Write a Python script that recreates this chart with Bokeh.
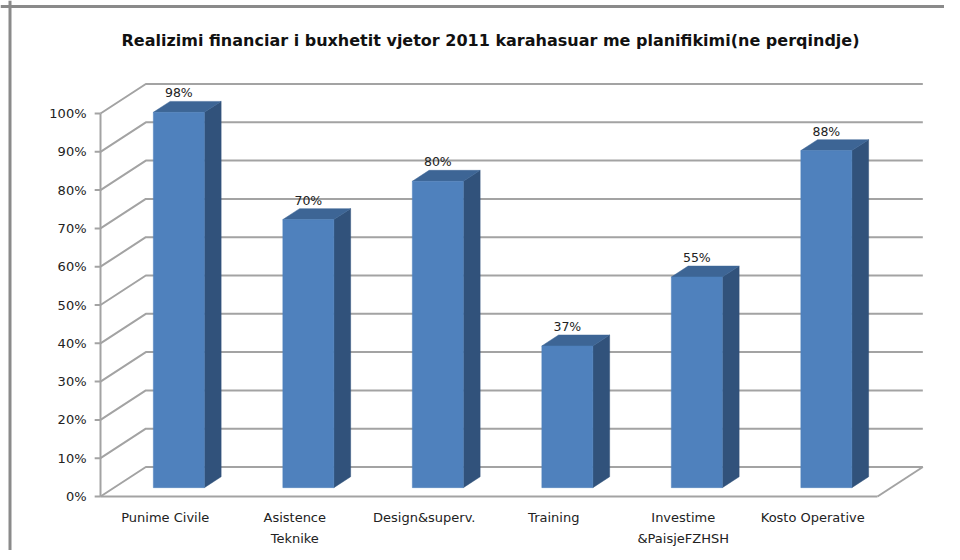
from bokeh.plotting import figure
from bokeh.models import ColumnDataSource, Range1d, Span
from bokeh.embed import file_html
from bokeh.resources import INLINE
from bokeh.core.properties import value

# ---------------- data ----------------
title_text = "Realizimi financiar i buxhetit vjetor 2011 karahasuar me planifikimi(ne perqindje)"
categories = ["Punime Civile", "Asistence\nTeknike", "Design&superv.", "Training",
              "Investime\n&PaisjeFZHSH", "Kosto Operative"]
values = [98, 70, 80, 37, 55, 88]
value_labels = ["98%", "70%", "80%", "37%", "55%", "88%"]
y_ticks = [0, 10, 20, 30, 40, 50, 60, 70, 80, 90, 100]
y_tick_labels = ["0%", "10%", "20%", "30%", "40%", "50%", "60%", "70%", "80%", "90%", "100%"]

# ---------------- geometry / style ----------------
W, H = 944, 550
PX_X = 129.5      # px per category slot
PX_Y = 3.83       # px per percent
X0 = 100          # figure px from left edge to front value axis
Y0 = 496          # figure px from top edge to front 0% line
DX = 0.35         # depth offset (category units)
DY = 7.7          # depth offset (percent units)
BW = 0.394        # bar width (category units)
F0, F1 = 0.30, 0.67   # bar front/back depth fractions
N = len(categories)

FONT = "DejaVu Sans"
GRID = "#a3a3a3"
FRONT = "#4f81bd"
SIDE = "#31527b"
TOP = "#3d6595"
FRAME = "#8a8a8a"

p = figure(width=W, height=H, output_backend="svg", toolbar_location=None,
           x_range=Range1d(-X0 / PX_X, (W - X0) / PX_X),
           y_range=Range1d(-(H - Y0) / PX_Y, Y0 / PX_Y),
           x_axis_location=None, y_axis_location=None,
           min_border=0, background_fill_color="white", border_fill_color="white",
           outline_line_color=None)
p.xgrid.visible = False
p.ygrid.visible = False

# chart-area frame: only the top and left edges are visible in the reference
p.add_layout(Span(location=(Y0 - 6) / PX_Y, dimension="width", line_color=FRAME, line_width=3))
p.add_layout(Span(location=(9.5 - X0) / PX_X, dimension="height", line_color=FRAME, line_width=3))

# back wall gridlines + side wall diagonals
gx, gy = [], []
for t in y_ticks:
    gx.append([0, DX, N + DX]); gy.append([t, t + DY, t + DY])
p.multi_line(gx, gy, line_color=GRID, line_width=2)

# floor front edge, right diagonal, front axis, tick marks
fx = [[0, N], [N, N + DX], [0, 0]]
fy = [[0, 0], [0, DY], [0, y_ticks[-1]]]
for t in y_ticks:
    fx.append([-0.045, 0]); fy.append([t, t])
p.multi_line(fx, fy, line_color=GRID, line_width=2)

# bars
D = F1 - F0
cx = [i + 0.5 + F0 * DX for i in range(N)]
left = [c - BW / 2 for c in cx]
right = [c + BW / 2 for c in cx]
bottom = [F0 * DY] * N
top = [v + F0 * DY for v in values]

side_xs = [[r, r + D * DX, r + D * DX, r] for r in right]
side_ys = [[b, b + D * DY, t + D * DY, t] for b, t in zip(bottom, top)]
top_xs = [[l, r, r + D * DX, l + D * DX] for l, r in zip(left, right)]
top_ys = [[t, t, t + D * DY, t + D * DY] for t in top]

p.patches(side_xs, side_ys, fill_color=SIDE, line_color=SIDE, line_width=0.5)
p.patches(top_xs, top_ys, fill_color=TOP, line_color=TOP, line_width=0.5)
p.quad(left=left, right=right, bottom=bottom, top=top,
       fill_color=FRONT, line_color=FRONT, line_width=0.5)

# value labels
vsrc = ColumnDataSource(dict(x=cx, y=[v + F1 * DY + 2.2 for v in values], t=value_labels))
p.text("x", "y", text="t", source=vsrc, text_font=value(FONT), text_font_size="12.5px",
       text_color="#222222", text_align="center", text_baseline="alphabetic")

# y tick labels
ysrc = ColumnDataSource(dict(x=[-14 / PX_X] * len(y_ticks), y=y_ticks, t=y_tick_labels))
p.text("x", "y", text="t", source=ysrc, text_font=value(FONT), text_font_size="13px",
       text_color="#222222", text_align="right", text_baseline="middle")

# category labels
csrc = ColumnDataSource(dict(x=[i + 0.5 for i in range(N)], y=[-13 / PX_Y] * N, t=categories))
p.text("x", "y", text="t", source=csrc, text_font=value(FONT), text_font_size="13px",
       text_color="#222222", text_align="center", text_baseline="top", text_line_height=1.45)

# title
tsrc = ColumnDataSource(dict(x=[(490 - X0) / PX_X], y=[(Y0 - 40) / PX_Y], t=[title_text]))
p.text("x", "y", text="t", source=tsrc, text_font=value(FONT), text_font_size="16px",
       text_font_style="bold", text_color="#111111", text_align="center", text_baseline="middle")

open("out.html", "w").write(file_html(p, INLINE))
